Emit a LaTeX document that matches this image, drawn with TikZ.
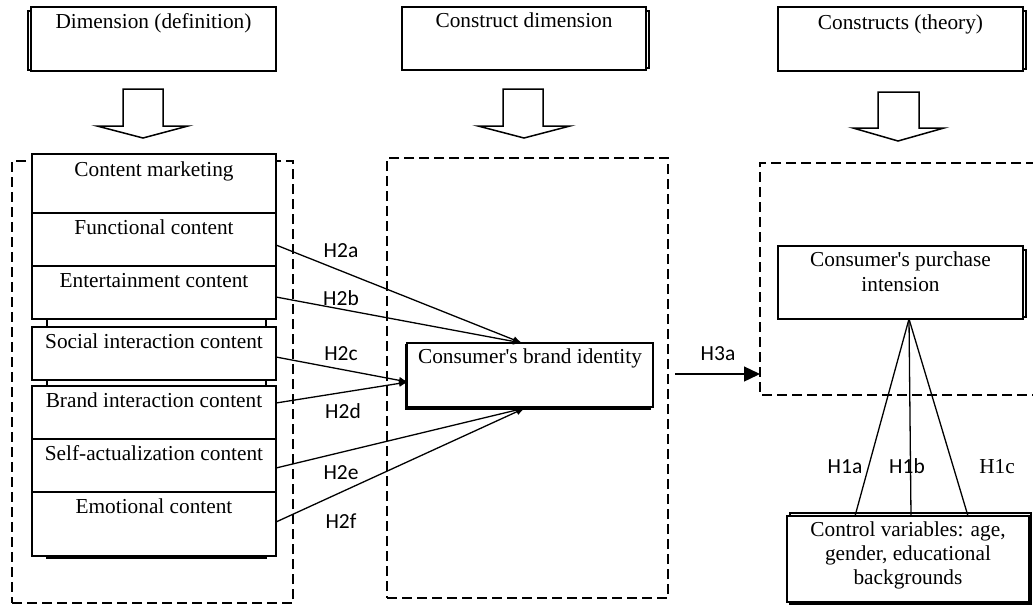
\documentclass[tikz,border=0pt]{standalone}
\usepackage{fontspec}
\setmainfont{Liberation Serif}
\newfontfamily\hfont{Carlito}
\usetikzlibrary{arrows.meta}
\begin{document}
\begin{tikzpicture}[x=1pt,y=-1pt,
  box/.style={draw, line width=1.6pt, fill=white, inner sep=0pt, outer sep=0pt, anchor=north west},
  shbox/.style={draw, line width=1.3pt, fill=white, inner sep=0pt, outer sep=0pt, anchor=north west},
  dbox/.style={draw, line width=1.8pt, dash pattern=on 10pt off 5pt, inner sep=0pt, outer sep=0pt, anchor=north west},
  dline/.style={line width=1.8pt, dash pattern=on 10pt off 5pt},
  txt/.style={font=\fontsize{21.3pt}{25pt}\selectfont, inner sep=0pt, anchor=base},
  hl/.style={font=\hfont\fontsize{21.5pt}{25pt}\selectfont, inner sep=0pt, anchor=base},
  conn/.style={line width=1.3pt, -{Latex[length=9pt,width=7pt]}},
  plain/.style={line width=1.3pt},
  blockarrow/.style={draw, line width=1.5pt, fill=white, line join=miter}]
\useasboundingbox (0,0) rectangle (1033,608);

% top boxes
\node[shbox, minimum width=240pt, minimum height=59pt] (t1s) at (28,11) {};
\node[box, minimum width=245pt, minimum height=64pt] (t1) at (31,7) {};
\node[txt] (t1t) at (153.5,28) {Dimension (definition)};
\node[shbox, minimum width=243pt, minimum height=57pt] (t2s) at (406,11) {};
\node[box, minimum width=244pt, minimum height=63pt] (t2) at (402,7) {};
\node[txt] (t2t) at (524,27) {Construct dimension};
\node[shbox, minimum width=244pt, minimum height=58pt] (t3s) at (782,11) {};
\node[box, minimum width=245pt, minimum height=64pt] (t3) at (778,7) {};
\node[txt] (t3t) at (900.5,29) {Constructs (theory)};

% block arrows
\draw[blockarrow] (123,89) -- (163,89) -- (163,126) -- (188,126) -- (143,138) -- (97,126) -- (123,126) -- cycle;
\draw[blockarrow] (503,89) -- (543,89) -- (543,126) -- (570,126) -- (524,138) -- (478,126) -- (503,126) -- cycle;
\draw[blockarrow] (878,92) -- (919,92) -- (919,128) -- (944,128) -- (898,141) -- (853,128) -- (878,128) -- cycle;

% dashed frames
\node[dbox, minimum width=281pt, minimum height=442pt] (dl) at (12,161) {};
\node[dbox, minimum width=281pt, minimum height=440pt] (dm) at (387,158) {};
\draw[dline] (1036,163) -- (760,163) -- (760,395) -- (1036,395);

% left stack
\node[shbox, minimum width=219pt, minimum height=243pt] (stk) at (47,315) {};
\node[box, minimum width=244pt, minimum height=59pt] (cm) at (32,154) {};
\node[txt] (cmt) at (154,176) {Content marketing};
\node[box, minimum width=244pt, minimum height=53pt] (fc) at (32,213) {};
\node[txt] (fct) at (154,234) {Functional content};
\node[box, minimum width=244pt, minimum height=53pt] (ec) at (32,266) {};
\node[txt] (ect) at (154,287) {Entertainment content};
\node[box, minimum width=244pt, minimum height=53pt] (sc) at (32,327) {};
\node[txt] (sct) at (154,348) {Social interaction content};
\node[box, minimum width=244pt, minimum height=53pt] (bc) at (32,386) {};
\node[txt] (bct) at (154,407) {Brand interaction content};
\node[box, minimum width=244pt, minimum height=53pt] (sa) at (32,439) {};
\node[txt] (sat) at (154,460) {Self-actualization content};
\node[box, minimum width=244pt, minimum height=64pt] (em) at (32,492) {};
\node[txt] (emt) at (154,513) {Emotional content};

% consumer's brand identity
\node[shbox, minimum width=244pt, minimum height=64pt] (cbis) at (406,345) {};
\node[box, minimum width=246pt, minimum height=64pt] (cbi) at (407,343) {};
\node[txt] (cbit) at (530,363) {Consumer\textquotesingle s brand identity};

% purchase intension
\node[shbox, minimum width=245pt, minimum height=67pt] (cpis) at (781,250) {};
\node[box, minimum width=245pt, minimum height=73pt] (cpi) at (778,246) {};
\node[txt] (cpit1) at (900.5,266) {Consumer\textquotesingle s purchase};
\node[txt] (cpit2) at (900.5,291) {intension};

% control variables
\node[shbox, minimum width=241pt, minimum height=91pt] (cvs) at (790,513) {};
\node[box, minimum width=242pt, minimum height=86pt] (cv) at (787,516) {};
\node[txt] (cvt1) at (908,536) {Control variables: age,};
\node[txt] (cvt2) at (908,560) {gender, educational};
\node[txt] (cvt3) at (908,584) {backgrounds};

% connector coordinates
\coordinate (s1) at (276,245);
\coordinate (s2) at (276,297);
\coordinate (s3) at (276,357);
\coordinate (s4) at (276,403);
\coordinate (s5) at (276,468);
\coordinate (s6) at (276,522);
\coordinate (e12) at (522,343);
\coordinate (e34) at (408,382);
\coordinate (e56) at (525,408);
\coordinate (h3s) at (675,374);
\coordinate (h3e) at (760,374);
\coordinate (apex) at (909,319);
\coordinate (c1) at (855,516);
\coordinate (c2) at (911,516);
\coordinate (c3) at (968,516);

\draw[conn] (s1) -- (e12);
\draw[conn] (s2) -- (e12);
\draw[conn] (s3) -- (e34);
\draw[conn] (s4) -- (e34);
\draw[conn] (s5) -- (e56);
\draw[conn] (s6) -- (e56);
\draw[line width=1.3pt, -{Triangle[length=16pt,width=15pt]}] (h3s) -- (h3e);
\draw[plain] (apex) -- (c1);
\draw[plain] (apex) -- (c2);
\draw[plain] (apex) -- (c3);

% labels
\node[hl] (l2a) at (341,257) {H2a};
\node[hl] (l2b) at (341,305) {H2b};
\node[hl] (l2c) at (341,360) {H2c};
\node[hl] (l2d) at (343,418) {H2d};
\node[hl] (l2e) at (341,479) {H2e};
\node[hl] (l2f) at (341,528) {H2f};
\node[hl] (l3a) at (718,360) {H3a};
\node[hl] (l1a) at (845,473) {H1a};
\node[hl] (l1b) at (907,473) {H1b};
\node[txt] (l1c) at (997,473) {H1c};
\end{tikzpicture}
\end{document}
